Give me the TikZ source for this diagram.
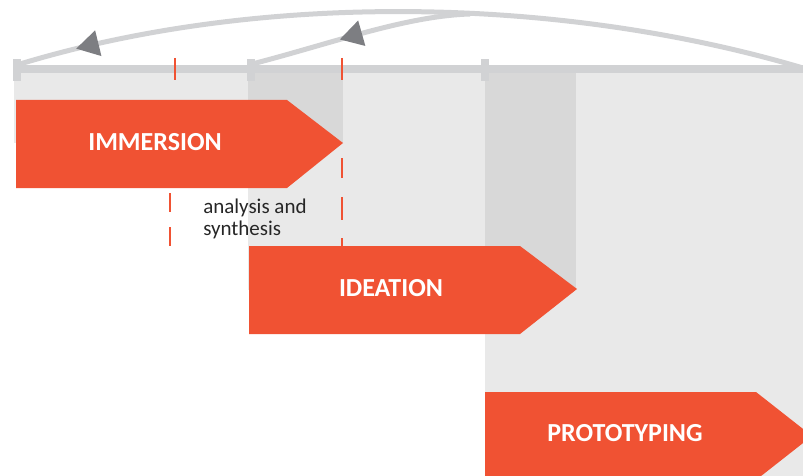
\documentclass[tikz,border=0pt]{standalone}
\usepackage{fontspec}
\setmainfont{Carlito}
\usetikzlibrary{arrows.meta,decorations.markings}

\definecolor{phaseorange}{HTML}{F05233}
\definecolor{areagray}{HTML}{E9E9E9}
\definecolor{overlapgray}{HTML}{D8D8D8}
\definecolor{linegray}{HTML}{D1D2D4}
\definecolor{tipgray}{HTML}{7D7E82}

\tikzset{every picture/.style={line width=0.5pt}}

\begin{document}
\begin{tikzpicture}[x=1pt,y=1pt,yscale=-1,xscale=1,
  phase/.style={fill=phaseorange},
  phaselabel/.style={text=white,inner sep=0pt,font=\fontsize{26}{30}\selectfont\bfseries},
  loopline/.style={draw=linegray,line width=5pt,postaction={decorate}},
  tickmark/.style={fill=linegray},
  reddash/.style={draw=phaseorange,line width=2pt}]
\clip (0,0) rectangle (803,476);

%Shape: Rectangle
\fill [areagray] (14,73) rectangle (343,143);
\fill [areagray] (248,73) rectangle (576,290);
\fill [areagray] (485,73) rectangle (803,476);
%Shape: Rectangle
\fill [overlapgray] (248,73) rectangle (343,143);
\fill [overlapgray] (485,73) rectangle (576,290);

%Straight Lines
\draw [linegray,line width=8pt] (13,69) -- (803,69);
%Shape: Rectangle
\fill [tickmark] (13,59) rectangle (21,81);
\fill [tickmark] (247,59) rectangle (255,81);
\fill [tickmark] (481,59) rectangle (489,81);

\coordinate (rightend) at (803,68);
\coordinate (leftend) at (20,64);
\coordinate (midend) at (252,64);
\coordinate (merge) at (470,14);

%Curve Lines
\draw [loopline,decoration={markings,mark=at position -58pt with {\arrow{Triangle[length=23pt,width=25pt,color=tipgray]}}}] (rightend) .. controls (560,-4) and (261,-9) .. (leftend);
%Curve Lines
\draw [loopline,decoration={markings,mark=at position -91pt with {\arrow{Triangle[length=23pt,width=25pt,color=tipgray]}}}] (merge) .. controls (405,16) and (330,44) .. (midend);

%Straight Lines
\draw [reddash] (175,58) -- (175,80);
\draw [reddash] (342,58) -- (342,80);
\draw [reddash] (170,193) -- (170,212);
\draw [reddash] (170,227) -- (170,246);
\draw [reddash] (342,158) -- (342,178);
\draw [reddash] (342,197) -- (342,220);
\draw [reddash] (342,238) -- (342,258);

%Shape: Polygon
\fill [phase] (16,100) -- (287,100) -- (343,143) -- (287,188) -- (16,188) -- cycle;
\fill [phase] (249,246) -- (520,246) -- (577,289) -- (520,334) -- (249,334) -- cycle;
\fill [phase] (485,392) -- (756,392) -- (812,436) -- (756,480) -- (485,480) -- cycle;

% Text Node
\node [phaselabel] (immersion) at (155,142) {IMMERSION};
% Text Node
\node [phaselabel] (ideation) at (391,288) {IDEATION};
% Text Node
\node [phaselabel] (prototyping) at (625,433) {PROTOTYPING};
% Text Node
\node [anchor=base west,inner sep=0pt,align=left,text=black!85,font=\fontsize{21}{22}\selectfont] (analysis) at (203,235) {analysis and\\synthesis};

\end{tikzpicture}
\end{document}
